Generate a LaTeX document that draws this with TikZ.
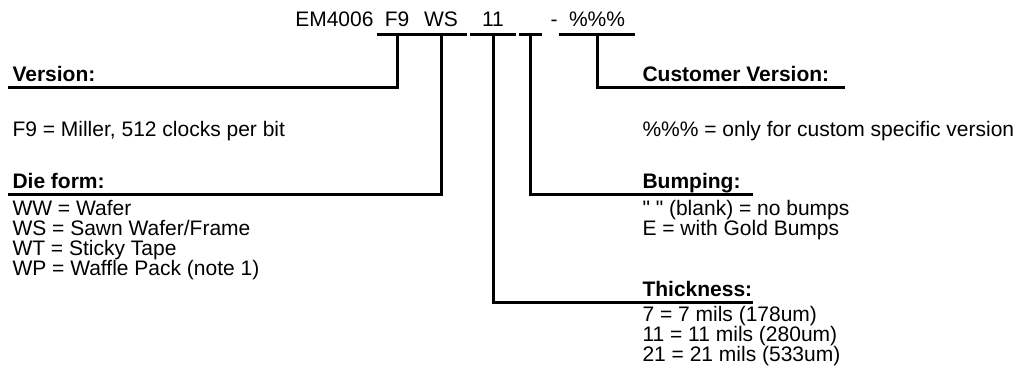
\documentclass[tikz,border=0pt]{standalone}
\usepackage{fontspec}
\setmainfont{Liberation Sans}[Ligatures=TeXOff]

\tikzset{
  code/.style={anchor=base, inner xsep=0pt, inner ysep=3pt, text depth=0pt},
  head/.style={anchor=base west, inner sep=0pt, font=\fontsize{10.5}{10}\selectfont\bfseries},
  item/.style={anchor=base west, inner sep=0pt},
}

\begin{document}
\begin{tikzpicture}[x=0.5pt, y=-0.5pt, line width=1.5pt, font=\fontsize{10.5}{10}\selectfont]
		\useasboundingbox (0,0) rectangle (1022,383);

		% part number with its code fields
		\node[anchor=base east, inner sep=0pt] (part) at (375,27) {EM4006};
		\node[code, minimum width=19pt] (f9) at (397,27) {F9};
		\node[code, minimum width=24pt] (ws) at (441,27) {WS};
		\node[code, minimum width=21.5pt] (th) at (493,27) {11};
		\node[code, minimum width=10pt] (bp) at (530,27) {};
		\node[anchor=base, inner sep=0pt] (dash) at (554,27) {-};
		\node[code, minimum width=36.5pt] (cv) at (597,27) {\%\%\%};

		% headings
		\node[head] (ver) at (11,82) {Version:};
		\node[head] (die) at (11,189) {Die form:};
		\node[head] (cust) at (641,82) {Customer Version:};
		\node[head] (bump) at (641,189) {Bumping:};
		\node[head] (thick) at (641,297) {Thickness:};

		\coordinate (verL) at (8,88);
		\coordinate (dieL) at (8,195);
		\coordinate (custR) at (845,88);
		\coordinate (bumpR) at (753,195);
		\coordinate (thickR) at (753,303);

		% descriptions
		\node[item] (verdesc) at (11,137) {F9 = Miller, 512 clocks per bit};
		\node[item] (custdesc) at (641,137) {\%\%\% = only for custom specific version};
		\foreach \txt [count=\i] in {WW = Wafer, WS = Sawn Wafer/Frame, WT = Sticky Tape, WP = Waffle Pack (note 1)}
			\node[item] (die\i) at (11,{196+20*\i}) {\txt};
		\foreach \txt [count=\i] in {" " (blank) = no bumps, E = with Gold Bumps}
			\node[item] (bump\i) at (641,{196+20*\i}) {\txt};
		\foreach \txt [count=\i] in {7 = 7 mils (178um), 11 = 11 mils (280um), 21 = 21 mils (533um)}
			\node[item] (thick\i) at (641,{302+20*\i}) {\txt};

		% leaders from the fields to the headings
		\draw (f9.south west) -- (f9.south east) (f9.south) |- (verL);
		\draw (ws.south west) -- (ws.south east) (ws.south) |- (dieL);
		\draw (th.south west) -- (th.south east) (th.south) |- (thickR);
		\draw (bp.south west) -- (bp.south east) (bp.south) |- (bumpR);
		\draw (cv.south west) -- (cv.south east) (cv.south) |- (custR);
	\end{tikzpicture}
\end{document}
